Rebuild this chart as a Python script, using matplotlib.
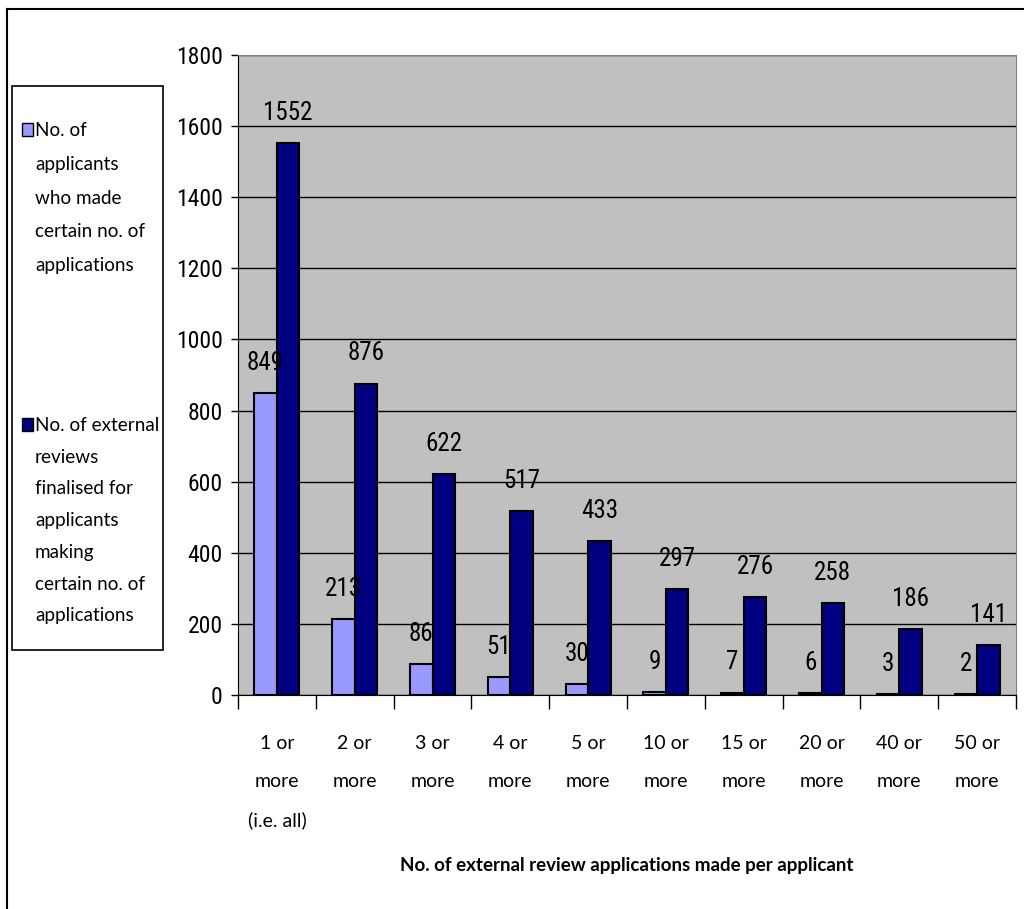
import numpy as np
import matplotlib.pyplot as plt
from matplotlib import font_manager
from matplotlib.patches import Rectangle
from matplotlib.lines import Line2D

# Datos
categorias = ['1 or\nmore\n(i.e. all)', '2 or\nmore', '3 or\nmore', '4 or\nmore', '5 or\nmore',
              '10 or\nmore', '15 or\nmore', '20 or\nmore', '40 or\nmore', '50 or\nmore']
solicitantes = [849, 213, 86, 51, 30, 9, 7, 6, 3, 2]
revisiones = [1552, 876, 622, 517, 433, 297, 276, 258, 186, 141]
etiqueta_solicitantes = 'No. of\napplicants\nwho made\ncertain no. of\napplications'
etiqueta_revisiones = 'No. of external\nreviews\nfinalised for\napplicants\nmaking\ncertain no. of\napplications'
titulo_x = 'No. of external review applications made per applicant'

color_claro = '#9999FF'
color_oscuro = '#000080'

# Fuente estrecha para los números si existe
disponibles = {f.name for f in font_manager.fontManager.ttflist}
estrecha = None
for nombre in ['Liberation Sans Narrow', 'Arial Narrow', 'DejaVu Sans Condensed', 'Roboto Condensed']:
    if nombre in disponibles:
        estrecha = nombre
        break
if estrecha:
    fuente_num = [estrecha, 'DejaVu Sans']
    tam_num = 17
else:
    fuente_num = ['Liberation Sans', 'DejaVu Sans']
    tam_num = 14
fuente_txt = ['Lato', 'DejaVu Sans']

fig = plt.figure(figsize=(10.24, 9.09), dpi=100)
ax = fig.add_axes([238 / 1024, 1 - 695 / 909, (1016 - 238) / 1024, (695 - 55) / 909])
ax.set_facecolor('#C0C0C0')

x = np.arange(len(categorias))
ancho = 0.29
b1 = ax.bar(x - ancho / 2, solicitantes, ancho, color=color_claro, edgecolor='black', linewidth=1.5, zorder=3)
b2 = ax.bar(x + ancho / 2, revisiones, ancho, color=color_oscuro, edgecolor='black', linewidth=1.5, zorder=3)

for barras in (b1, b2):
    for r in barras:
        ax.annotate(f'{int(r.get_height())}', (r.get_x() + r.get_width() / 2, r.get_height()),
                    xytext=(0, 13), textcoords='offset points', ha='center', va='bottom',
                    fontsize=tam_num + 1, family=fuente_num, zorder=4)

ax.set_xlim(-0.5, len(categorias) - 0.5)
ax.set_ylim(0, 1800)
ax.set_yticks(np.arange(0, 1801, 200))
ax.yaxis.grid(True, color='black', linewidth=1, zorder=1)
ax.set_axisbelow(True)
for lab in ax.get_yticklabels():
    lab.set_family(fuente_num)
    lab.set_fontsize(tam_num)
ax.tick_params(axis='y', length=5, width=1, pad=6)

ax.set_xticks(x)
ax.set_xticklabels(categorias, fontsize=14, family=fuente_txt, linespacing=2.45, va='top')
ax.tick_params(axis='x', which='major', length=0, pad=29)
ax.set_xticks(np.arange(-0.5, len(categorias)), minor=True)
ax.tick_params(axis='x', which='minor', length=10, width=1)

for s in ('top', 'right'):
    ax.spines[s].set_color('#808080')
ax.spines['left'].set_color('black')
ax.spines['bottom'].set_color('black')

fig.text((238 + 1016) / 2 / 1024, 1 - 866 / 909, titulo_x, ha='center', va='center',
         fontsize=13.5, fontweight='bold', family=fuente_txt)

# Leyenda manual
fig.add_artist(Rectangle((12 / 1024, 1 - 650 / 909), (163 - 12) / 1024, (650 - 86) / 909,
                         transform=fig.transFigure, facecolor='white', edgecolor='black', linewidth=1.2))
for y_top, color, texto, esp in ((122, color_claro, etiqueta_solicitantes, 2.2),
                                 (417, color_oscuro, etiqueta_revisiones, 2.05)):
    fig.add_artist(Rectangle((22 / 1024, 1 - (y_top + 14) / 909), 11 / 1024, 13 / 909,
                             transform=fig.transFigure, facecolor=color, edgecolor='black', linewidth=1))
    fig.text(35 / 1024, 1 - y_top / 909, texto, ha='left', va='top', fontsize=13.6,
             family=fuente_txt, linespacing=esp)

# Borde exterior
fig.add_artist(Line2D([7 / 1024, 7 / 1024], [0, 1 - 9 / 909], transform=fig.transFigure, color='black', linewidth=1.5))
fig.add_artist(Line2D([7 / 1024, 1], [1 - 9 / 909, 1 - 9 / 909], transform=fig.transFigure, color='black', linewidth=1.5))

fig.savefig('out.png', dpi=100)
